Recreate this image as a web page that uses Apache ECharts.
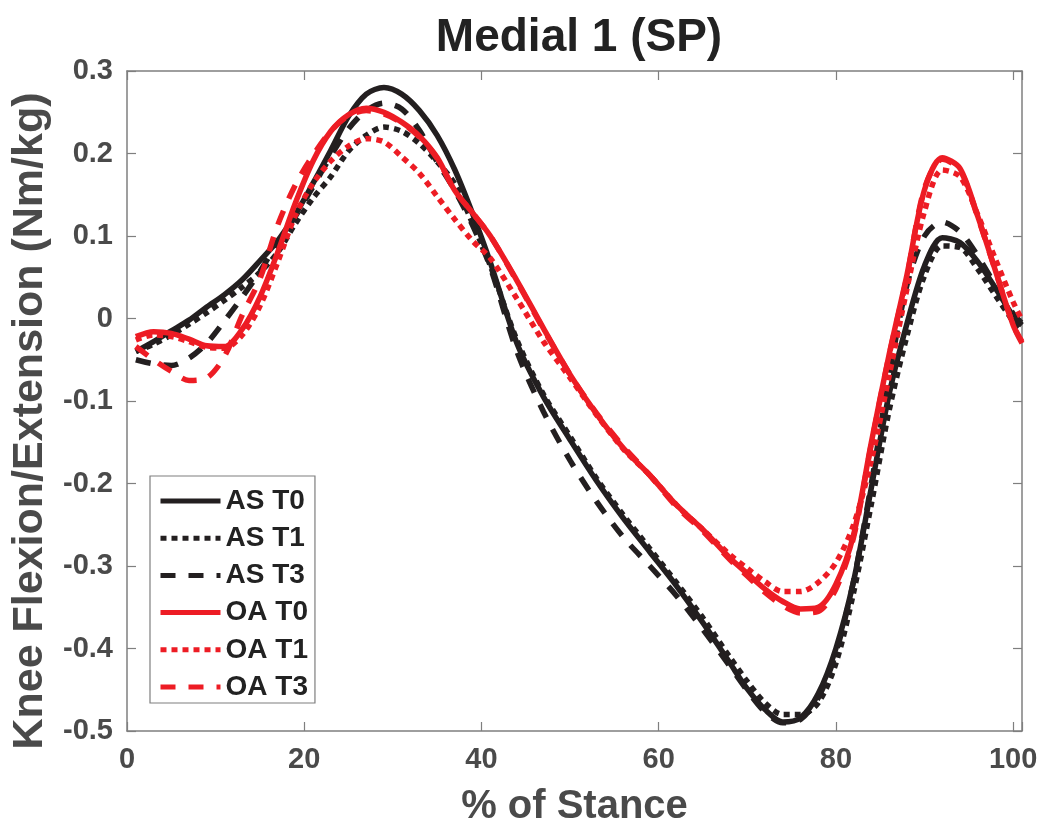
<!DOCTYPE html>
<html>
<head>
<meta charset="utf-8">
<script src="https://cdn.jsdelivr.net/npm/echarts@6/dist/echarts.min.js"></script>
<style>
html,body{margin:0;padding:0;background:#fff;}
#chart{width:1044px;height:829px;}
</style>
</head>
<body>
<div id="chart"></div>
<script>
const titleText = 'Medial 1 (SP)';
const xName = '% of Stance';
const yName = 'Knee Flexion/Extension (Nm/kg)';
const seriesNames = ['AS T0','AS T1','AS T3','OA T0','OA T1','OA T3'];

const stance = [1,3,5,7,9,11,13,15,17,19,21,23,25,27,29,31,33,35,37,39,41,44,47,50,53,56,59,62,65,68,70,72,74,76,78,80,82,84,86,88,90,92,94,96,98,100,101];

const asT0 = [-0.040,-0.028,-0.015,-0.002,0.014,0.029,0.047,0.070,0.094,0.126,0.164,0.204,0.245,0.272,0.280,0.272,0.252,0.222,0.180,0.127,0.068,-0.030,-0.095,-0.147,-0.197,-0.242,-0.283,-0.324,-0.369,-0.417,-0.449,-0.474,-0.489,-0.484,-0.455,-0.400,-0.318,-0.205,-0.092,-0.007,0.064,0.098,0.092,0.069,0.037,0.003,-0.008];
const asT1 = [-0.040,-0.031,-0.020,-0.007,0.007,0.022,0.038,0.056,0.080,0.115,0.146,0.172,0.203,0.222,0.232,0.227,0.212,0.190,0.163,0.115,0.064,-0.026,-0.092,-0.143,-0.194,-0.238,-0.279,-0.320,-0.363,-0.410,-0.440,-0.466,-0.480,-0.480,-0.466,-0.418,-0.332,-0.225,-0.112,-0.022,0.052,0.088,0.086,0.060,0.028,-0.003,-0.014];
const asT3 = [-0.050,-0.055,-0.057,-0.048,-0.030,-0.003,0.026,0.057,0.092,0.124,0.160,0.197,0.230,0.252,0.261,0.254,0.228,0.190,0.155,0.113,0.062,-0.040,-0.113,-0.172,-0.222,-0.265,-0.300,-0.336,-0.377,-0.421,-0.451,-0.477,-0.490,-0.486,-0.460,-0.405,-0.318,-0.200,-0.070,0.040,0.100,0.117,0.105,0.076,0.040,0.006,-0.006];
const oaT0 = [-0.022,-0.016,-0.018,-0.025,-0.033,-0.034,-0.013,0.026,0.080,0.140,0.191,0.227,0.247,0.255,0.250,0.238,0.221,0.195,0.155,0.128,0.100,0.046,-0.012,-0.068,-0.116,-0.157,-0.190,-0.226,-0.256,-0.290,-0.309,-0.328,-0.343,-0.352,-0.350,-0.322,-0.262,-0.150,-0.044,0.052,0.156,0.195,0.182,0.124,0.058,-0.008,-0.030];
const oaT1 = [-0.026,-0.020,-0.022,-0.028,-0.035,-0.036,-0.020,0.015,0.068,0.125,0.164,0.191,0.209,0.218,0.214,0.196,0.176,0.148,0.120,0.094,0.073,0.024,-0.028,-0.072,-0.117,-0.158,-0.190,-0.226,-0.256,-0.286,-0.303,-0.319,-0.331,-0.331,-0.320,-0.296,-0.250,-0.172,-0.070,0.035,0.130,0.180,0.172,0.126,0.072,0.020,-0.002];
const oaT3 = [-0.034,-0.050,-0.064,-0.075,-0.072,-0.046,0.004,0.048,0.113,0.162,0.198,0.227,0.246,0.252,0.248,0.237,0.220,0.194,0.155,0.128,0.100,0.045,-0.013,-0.068,-0.115,-0.155,-0.190,-0.228,-0.258,-0.292,-0.312,-0.332,-0.348,-0.357,-0.355,-0.328,-0.265,-0.152,-0.045,0.050,0.158,0.193,0.180,0.123,0.058,-0.008,-0.028];

const BLACK = '#231f20';
const RED = '#ed1c24';
const FONT = "'Liberation Sans', Arial, Helvetica, sans-serif";
const AXIS_GRAY = '#7f7f7f';
const LABEL_GRAY = '#4a4a4a';

const values = [asT0, asT1, asT3, oaT0, oaT1, oaT3];
const colors = [BLACK, BLACK, BLACK, RED, RED, RED];
const dashes = ['solid', [6,5], [15,13], 'solid', [6,5], [15,13]];

const series = values.map((v, i) => ({
  name: seriesNames[i],
  type: 'line',
  data: stance.map((x, j) => [x, v[j]]),
  smooth: 0.3,
  symbol: 'none',
  showSymbol: false,
  lineStyle: { color: colors[i], width: 5.5, type: dashes[i] },
  itemStyle: { color: colors[i] },
  z: 2 + i
}));

const chart = echarts.init(document.getElementById('chart'), null, { renderer: 'canvas' });

const baseAxisLine = { show: true, onZero: false, lineStyle: { color: AXIS_GRAY, width: 1.5 } };
const tickStyle = { show: true, inside: true, length: 9, lineStyle: { color: AXIS_GRAY, width: 1.2 } };

chart.setOption({
  animation: false,
  backgroundColor: '#ffffff',
  title: {
    text: titleText,
    left: 574,
    textAlign: 'center',
    top: 10,
    textStyle: { fontFamily: FONT, fontWeight: 'bold', fontSize: 46, color: '#222222' }
  },
  grid: { left: 127, right: 22, top: 71, bottom: 98, containLabel: false, outerBoundsMode: 'none' },
  legend: {
    orient: 'vertical',
    left: 150,
    top: 476,
    padding: [11, 7, 2, 8],
    itemWidth: 60,
    itemHeight: 14,
    itemGap: 9.2,
    borderColor: '#7f7f7f',
    borderWidth: 1.2,
    backgroundColor: '#ffffff',
    data: seriesNames,
    itemStyle: { opacity: 0, color: 'rgba(0,0,0,0)', borderWidth: 0 },
    lineStyle: { width: 5 },
    textStyle: { fontFamily: FONT, fontWeight: 'bold', fontSize: 28, color: '#222222' },
    itemTextGap: 5
  },
  xAxis: [{
    type: 'value', min: 0, max: 101, interval: 20, position: 'bottom',
    name: xName, nameLocation: 'middle', nameGap: 56,
    nameTextStyle: { fontFamily: FONT, fontWeight: 'bold', fontSize: 40, color: LABEL_GRAY },
    axisLine: baseAxisLine, axisTick: tickStyle, splitLine: { show: false },
    axisLabel: { fontFamily: FONT, fontWeight: 'bold', fontSize: 29, color: LABEL_GRAY, margin: 14,
      formatter: v => (Math.abs(v % 20) < 1e-9 ? String(v) : '') }
  }, {
    type: 'value', min: 0, max: 101, interval: 20, position: 'top',
    axisLine: baseAxisLine, axisTick: tickStyle, splitLine: { show: false }, axisLabel: { show: false }
  }],
  yAxis: [{
    type: 'value', min: -0.5, max: 0.3, interval: 0.1, position: 'left',
    name: yName, nameLocation: 'middle', nameGap: 72, nameRotate: 90,
    nameTextStyle: { fontFamily: FONT, fontWeight: 'bold', fontSize: 43, color: LABEL_GRAY, padding: [0, 40, 0, 0] },
    axisLine: baseAxisLine, axisTick: tickStyle, splitLine: { show: false },
    axisLabel: { fontFamily: FONT, fontWeight: 'bold', fontSize: 29, color: LABEL_GRAY, margin: 14,
      formatter: v => { const r = Math.round(v * 10) / 10; return r === 0 ? '0' : String(r); } }
  }, {
    type: 'value', min: -0.5, max: 0.3, interval: 0.1, position: 'right',
    axisLine: baseAxisLine, axisTick: tickStyle, splitLine: { show: false }, axisLabel: { show: false }
  }],
  series: series
});
</script>
</body>
</html>
